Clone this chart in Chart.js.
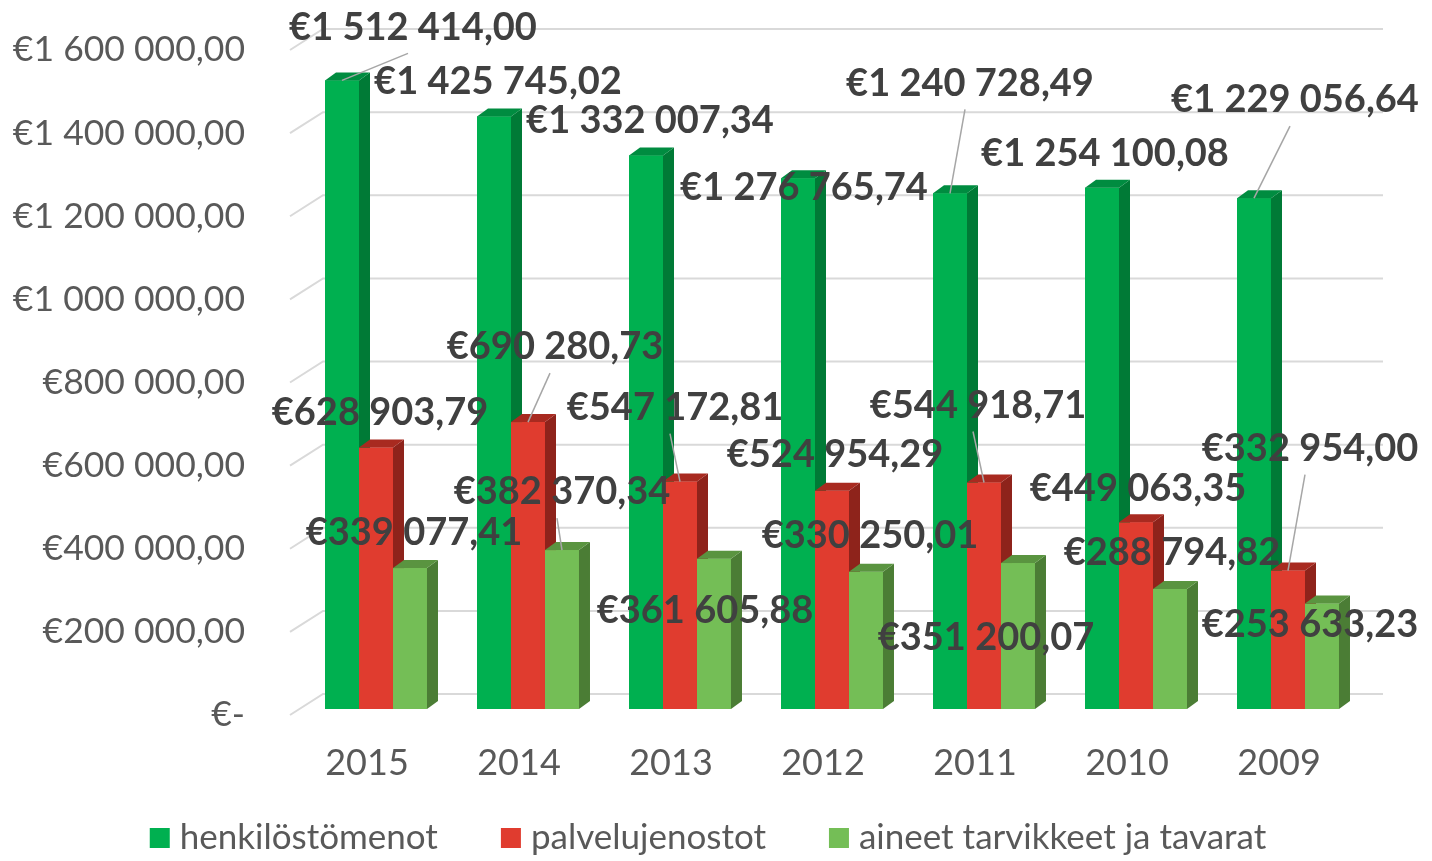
<!DOCTYPE html>
<html>
<head>
<meta charset="utf-8">
<script src="https://cdn.jsdelivr.net/npm/chart.js@4"></script>
<style>
  html, body { margin: 0; padding: 0; background: #fff; }
  #wrap { width: 1432px; height: 861px; }
</style>
</head>
<body>
<div id="wrap"><canvas id="chart" width="1432" height="861"></canvas></div>
<script>
// data
const years = ['2015', '2014', '2013', '2012', '2011', '2010', '2009'];
const henkilostomenot = [1512414.00, 1425745.02, 1332007.34, 1276765.74, 1240728.49, 1254100.08, 1229056.64];
const palvelujenostot = [628903.79, 690280.73, 547172.81, 524954.29, 544918.71, 449063.35, 332954.00];
const aineet = [339077.41, 382370.34, 361605.88, 330250.01, 351200.07, 288794.82, 253633.23];
const seriesNames = ['henkilöstömenot', 'palvelujenostot', 'aineet tarvikkeet ja tavarat'];

// look
const front = ['#00B050', '#E03C2F', '#74BE56'];
const side = ['#007A36', '#8E231B', '#4B7D35'];
const top3d = ['#008C40', '#A82A20', '#5A9440'];
const depthX = 11, depthY = -8;

// label placement relative to the bar top (px), and which labels get a leader line
const labelShift = [
  [[71, -53], [4, -35], [4, -35], [6, 9], [20, -110], [3, -34], [41, -98]],
  [[4, -35], [27, -75], [-5, -74], [3, -36], [-6, -77], [2, -34], [22, -122]],
  [[4, -35], [0, -58], [-9, 52], [4, -36], [-32, 75], [2, -36], [-12, 21]]
];
const leaders = [
  [1, 0, 0, 0, 1, 0, 1],
  [0, 1, 1, 0, 1, 0, 1],
  [0, 1, 0, 0, 0, 0, 0]
];

function euro(v) {
  if (v === 0) return '€-';
  const parts = v.toFixed(2).split('.');
  return '€' + parts[0].replace(/\B(?=(\d{3})+(?!\d))/g, ' ') + ',' + parts[1];
}

const floorGrid = {
  id: 'floorGrid',
  beforeDatasetsDraw(chart) {
    const ctx = chart.ctx;
    const y = chart.scales.y;
    ctx.save();
    ctx.strokeStyle = '#D9D9D9';
    ctx.lineWidth = 2;
    for (let v = 0; v <= 1600000; v += 200000) {
      const py = y.getPixelForValue(v);
      ctx.beginPath();
      ctx.moveTo(290, py + 6);
      ctx.lineTo(323, py - 15);
      ctx.lineTo(1383, py - 15);
      ctx.stroke();
    }
    ctx.restore();
  }
};

// Chart.js paints the last dataset first, so repaint the bars left to right
// (front, side, top) so each bar hides the side of the one before it
const bars3d = {
  id: 'bars3d',
  afterDatasetsDraw(chart) {
    const ctx = chart.ctx;
    ctx.save();
    chart.data.datasets.forEach((ds, i) => {
      chart.getDatasetMeta(i).data.forEach((bar) => {
        const l = bar.x - bar.width / 2, r = bar.x + bar.width / 2;
        const t = bar.y, b = bar.base;
        ctx.fillStyle = front[i];
        ctx.fillRect(l, t, r - l, b - t);
        ctx.fillStyle = side[i];
        ctx.beginPath();
        ctx.moveTo(r, t);
        ctx.lineTo(r + depthX, t + depthY);
        ctx.lineTo(r + depthX, b + depthY);
        ctx.lineTo(r, b);
        ctx.closePath();
        ctx.fill();
        ctx.fillStyle = top3d[i];
        ctx.beginPath();
        ctx.moveTo(l, t);
        ctx.lineTo(l + depthX, t + depthY);
        ctx.lineTo(r + depthX, t + depthY);
        ctx.lineTo(r, t);
        ctx.closePath();
        ctx.fill();
      });
    });
    ctx.restore();
  }
};

const valueLabels = {
  id: 'valueLabels',
  afterDraw(chart) {
    const ctx = chart.ctx;
    ctx.save();
    ctx.font = 'bold 38px Lato';
    ctx.textAlign = 'center';
    ctx.textBaseline = 'middle';
    chart.data.datasets.forEach((ds, i) => {
      chart.getDatasetMeta(i).data.forEach((bar, j) => {
        const lx = bar.x + labelShift[i][j][0];
        const ly = bar.y + labelShift[i][j][1];
        if (leaders[i][j]) {
          ctx.strokeStyle = '#A6A6A6';
          ctx.lineWidth = 1.5;
          ctx.beginPath();
          ctx.moveTo(bar.x, bar.y);
          ctx.lineTo(lx - 5, ly + 26);
          ctx.stroke();
        }
        ctx.fillStyle = '#404040';
        ctx.fillText(euro(ds.data[j]), lx, ly);
      });
    });
    ctx.restore();
  }
};

// legend drawn by hand so the box/text spacing matches the original
const bottomLegend = {
  id: 'bottomLegend',
  afterDraw(chart) {
    const ctx = chart.ctx;
    const box = 20, gap = 10, between = 63, cy = 838, centre = 708;
    ctx.save();
    ctx.font = '35px Lato';
    ctx.textBaseline = 'middle';
    const widths = chart.data.datasets.map((ds) => ctx.measureText(ds.label).width);
    let total = widths.reduce((a, w) => a + box + gap + w, 0) + between * (widths.length - 1);
    let x = centre - total / 2;
    chart.data.datasets.forEach((ds, i) => {
      ctx.fillStyle = ds.backgroundColor;
      ctx.fillRect(x, cy - box / 2, box, box);
      ctx.fillStyle = '#595959';
      ctx.fillText(ds.label, x + box + gap, cy);
      x += box + gap + widths[i] + between;
    });
    ctx.restore();
  }
};

const ctx = document.getElementById('chart').getContext('2d');
new Chart(ctx, {
  type: 'bar',
  data: {
    labels: years,
    datasets: [
      { label: seriesNames[0], data: henkilostomenot, backgroundColor: front[0] },
      { label: seriesNames[1], data: palvelujenostot, backgroundColor: front[1] },
      { label: seriesNames[2], data: aineet, backgroundColor: front[2] }
    ]
  },
  options: {
    responsive: false,
    animation: false,
    layout: { padding: { top: 44, right: 68, left: 0, bottom: 0 } },
    datasets: { bar: { categoryPercentage: 0.671, barPercentage: 1 } },
    plugins: {
      tooltip: { enabled: false },
      legend: { display: false }
    },
    scales: {
      x: {
        grid: { display: false, drawTicks: false, tickLength: 0 },
        border: { display: false },
        ticks: { font: { family: 'Lato', size: 36 }, color: '#595959', padding: 33, labelOffset: -9 },
        afterFit(s) { s.height = 152; }
      },
      y: {
        min: 0,
        max: 1600000,
        grid: { display: false, drawTicks: false, tickLength: 0 },
        border: { display: false },
        ticks: {
          stepSize: 200000,
          font: { family: 'Lato', size: 35.5 },
          color: '#595959',
          padding: 55,
          labelOffset: 6,
          callback: (v) => euro(v)
        },
        afterFit(s) {
          s.width = 300;
          s.paddingTop = 0;
          s.paddingBottom = 0;
        }
      }
    }
  },
  plugins: [floorGrid, bars3d, valueLabels, bottomLegend]
});
</script>
</body>
</html>
